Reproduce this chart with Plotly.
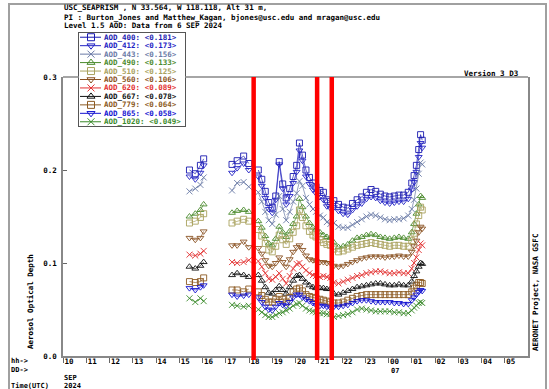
import plotly.graph_objects as go

# ---------------- data ----------------
T_SEG1 = [15.44, 15.69, 15.91, 16.05]
T_SEG2 = [17.27, 17.49, 17.77, 17.99]
T_SEG3 = [18.40, 18.55, 18.70, 18.85, 19.00, 19.15, 19.30, 19.45, 19.60, 19.75,
          19.90, 20.05, 20.17, 20.30, 20.45, 20.60, 20.75, 20.88, 21.05, 21.20,
          21.35, 21.50, 21.65, 21.85, 22.05, 22.25, 22.45, 22.65, 22.85, 23.05,
          23.25, 23.45, 23.65, 23.85, 24.05, 24.25, 24.45, 24.65, 24.85, 25.00,
          25.10, 25.20, 25.30, 25.38, 25.45]

AOD_400 = [0.200, 0.196, 0.205, 0.212, 0.206, 0.210, 0.215, 0.207,
           0.200, 0.190, 0.177, 0.165, 0.160, 0.172, 0.209, 0.185, 0.170, 0.180,
           0.193, 0.205, 0.229, 0.216, 0.200, 0.192, 0.186, 0.182, 0.178, 0.176,
           0.168, 0.166, 0.167, 0.163, 0.160, 0.159, 0.164, 0.168, 0.171, 0.176,
           0.179, 0.177, 0.174, 0.172, 0.171, 0.172, 0.173, 0.173, 0.176, 0.186,
           0.194, 0.205, 0.222, 0.238, 0.232]
AOD_412 = [0.193, 0.190, 0.197, 0.205, 0.197, 0.202, 0.207, 0.200,
           0.193, 0.183, 0.170, 0.158, 0.154, 0.168, 0.206, 0.180, 0.163, 0.172,
           0.186, 0.198, 0.221, 0.210, 0.193, 0.185, 0.179, 0.175, 0.171, 0.168,
           0.161, 0.159, 0.160, 0.156, 0.153, 0.152, 0.157, 0.161, 0.164, 0.169,
           0.171, 0.170, 0.167, 0.165, 0.164, 0.165, 0.166, 0.166, 0.169, 0.179,
           0.187, 0.198, 0.214, 0.229, 0.224]
AOD_443 = [0.177, 0.180, 0.184, 0.192, 0.178, 0.186, 0.187, 0.182,
           0.176, 0.166, 0.155, 0.146, 0.142, 0.152, 0.172, 0.158, 0.146, 0.155,
           0.166, 0.175, 0.188, 0.183, 0.170, 0.163, 0.158, 0.155, 0.151, 0.149,
           0.144, 0.142, 0.143, 0.139, 0.138, 0.138, 0.141, 0.144, 0.147, 0.150,
           0.152, 0.151, 0.149, 0.147, 0.146, 0.147, 0.147, 0.148, 0.151, 0.158,
           0.168, 0.180, 0.196, 0.208, 0.206]
AOD_490 = [0.150, 0.153, 0.157, 0.163, 0.154, 0.156, 0.157, 0.155,
           0.145, 0.138, 0.129, 0.121, 0.119, 0.126, 0.139, 0.133, 0.128, 0.134,
           0.142, 0.150, 0.169, 0.160, 0.150, 0.143, 0.138, 0.136, 0.133, 0.130,
           0.128, 0.127, 0.122, 0.117, 0.118, 0.120, 0.124, 0.127, 0.128, 0.130,
           0.131, 0.130, 0.128, 0.127, 0.126, 0.127, 0.128, 0.127, 0.126, 0.133,
           0.142, 0.153, 0.163, 0.172, 0.170]
AOD_510 = [0.143, 0.145, 0.149, 0.153, 0.143, 0.145, 0.147, 0.145,
           0.136, 0.129, 0.121, 0.114, 0.112, 0.118, 0.130, 0.125, 0.120, 0.126,
           0.133, 0.140, 0.157, 0.149, 0.140, 0.134, 0.130, 0.128, 0.125, 0.122,
           0.120, 0.119, 0.115, 0.112, 0.113, 0.115, 0.117, 0.119, 0.120, 0.121,
           0.122, 0.121, 0.120, 0.119, 0.118, 0.119, 0.119, 0.118, 0.118, 0.124,
           0.132, 0.142, 0.151, 0.160, 0.157]
AOD_560 = [0.127, 0.125, 0.127, 0.134, 0.119, 0.119, 0.123, 0.117,
           0.116, 0.110, 0.103, 0.097, 0.096, 0.100, 0.106, 0.101, 0.096, 0.104,
           0.112, 0.117, 0.119, 0.114, 0.108, 0.104, 0.103, 0.102, 0.101, 0.101,
           0.100, 0.100, 0.097, 0.096, 0.097, 0.099, 0.101, 0.103, 0.105, 0.106,
           0.107, 0.107, 0.107, 0.106, 0.107, 0.107, 0.108, 0.107, 0.107, 0.112,
           0.118, 0.124, 0.133, 0.139, 0.137]
AOD_620 = [0.109, 0.108, 0.110, 0.113, 0.101, 0.100, 0.101, 0.103,
           0.102, 0.096, 0.089, 0.083, 0.082, 0.085, 0.089, 0.083, 0.078, 0.086,
           0.094, 0.099, 0.100, 0.096, 0.092, 0.089, 0.087, 0.086, 0.085, 0.086,
           0.085, 0.084, 0.079, 0.078, 0.080, 0.082, 0.084, 0.086, 0.087, 0.089,
           0.090, 0.091, 0.091, 0.090, 0.089, 0.089, 0.090, 0.089, 0.089, 0.094,
           0.100, 0.106, 0.114, 0.121, 0.119]
AOD_667 = [0.096, 0.094, 0.097, 0.101, 0.087, 0.089, 0.087, 0.085,
           0.087, 0.081, 0.074, 0.068, 0.067, 0.071, 0.075, 0.071, 0.067, 0.074,
           0.081, 0.086, 0.087, 0.083, 0.079, 0.076, 0.074, 0.073, 0.073, 0.073,
           0.072, 0.072, 0.067, 0.066, 0.068, 0.070, 0.072, 0.074, 0.075, 0.076,
           0.077, 0.078, 0.078, 0.077, 0.076, 0.076, 0.077, 0.076, 0.076, 0.080,
           0.086, 0.091, 0.096, 0.100, 0.099]
AOD_779 = [0.080, 0.079, 0.080, 0.084, 0.071, 0.071, 0.069, 0.072,
           0.069, 0.065, 0.061, 0.058, 0.058, 0.061, 0.064, 0.061, 0.058, 0.063,
           0.069, 0.072, 0.073, 0.070, 0.066, 0.064, 0.063, 0.062, 0.061, 0.060,
           0.059, 0.058, 0.057, 0.057, 0.058, 0.060, 0.062, 0.064, 0.065, 0.066,
           0.066, 0.066, 0.066, 0.066, 0.066, 0.066, 0.066, 0.066, 0.066, 0.069,
           0.073, 0.076, 0.079, 0.079, 0.078]
AOD_865 = [0.073, 0.071, 0.074, 0.076, 0.066, 0.064, 0.065, 0.066,
           0.063, 0.058, 0.053, 0.050, 0.049, 0.053, 0.057, 0.055, 0.054, 0.058,
           0.063, 0.066, 0.066, 0.063, 0.061, 0.059, 0.057, 0.055, 0.054, 0.054,
           0.053, 0.052, 0.053, 0.053, 0.054, 0.055, 0.057, 0.059, 0.060, 0.060,
           0.059, 0.058, 0.058, 0.058, 0.058, 0.057, 0.057, 0.056, 0.056, 0.060,
           0.063, 0.066, 0.069, 0.071, 0.070]
AOD_1020 = [0.062, 0.058, 0.062, 0.059, 0.055, 0.054, 0.053, 0.054,
            0.050, 0.047, 0.044, 0.042, 0.042, 0.044, 0.046, 0.047, 0.049, 0.051,
            0.054, 0.056, 0.057, 0.054, 0.051, 0.049, 0.048, 0.047, 0.046, 0.046,
            0.045, 0.045, 0.042, 0.043, 0.044, 0.045, 0.047, 0.050, 0.051, 0.050,
            0.049, 0.048, 0.048, 0.048, 0.048, 0.047, 0.047, 0.046, 0.046, 0.049,
            0.052, 0.054, 0.057, 0.058, 0.057]

SERIES_NAMES = ["AOD_400", "AOD_412", "AOD_443", "AOD_490", "AOD_510", "AOD_560",
                "AOD_620", "AOD_667", "AOD_779", "AOD_865", "AOD_1020"]
SERIES_VALUES = [AOD_400, AOD_412, AOD_443, AOD_490, AOD_510, AOD_560,
                 AOD_620, AOD_667, AOD_779, AOD_865, AOD_1020]
SERIES_MEANS = ["0.181", "0.173", "0.156", "0.133", "0.125", "0.106",
                "0.089", "0.078", "0.064", "0.058", "0.049"]
SERIES_COLORS = ["#1a1ab0", "#2222c4", "#6a7aa6", "#4a8a2c", "#a9a25e", "#8a5222",
                 "#e23030", "#111111", "#8c5a22", "#1212d0", "#3a8a2a"]
SERIES_SYMBOLS = ["square-open", "triangle-down-open", "x-thin-open", "triangle-up-open",
                  "square-open", "triangle-down-open", "x-thin-open", "triangle-up-open",
                  "square-open", "triangle-down-open", "x-thin-open"]

RED_LINE_HOURS = [18.20, 20.93, 21.56]

HOUR_TICKS = list(range(10, 30))
HOUR_LABELS = ["10", "11", "12", "13", "14", "15", "16", "17", "18", "19", "20",
               "21", "22", "23", "00", "01", "02", "03", "04", "05"]
Y_TICKS = [0.0, 0.1, 0.2, 0.3]
Y_LABELS = ["0.0", "0.1", "0.2", "0.3"]

# ---------------- geometry helpers ----------------
W, H = 549, 389
ML, MR, MT, MB = 63, 21, 30, 33
PW, PH = W - ML - MR, H - MT - MB


def px(x):
    return (x - ML) / PW


def py(y):
    return (H - MB - y) / PH


TOP = py(77)
FONT = "DejaVu Sans Mono"


def tfont(size=7.5, color="#000000"):
    return dict(family=FONT, size=size, color=color, weight="bold")


fig = go.Figure()

# main data traces
n1, n2 = len(T_SEG1), len(T_SEG2)
xs = T_SEG1 + [None] + T_SEG2 + [None] + T_SEG3
for name, vals, col, sym in zip(SERIES_NAMES, SERIES_VALUES, SERIES_COLORS, SERIES_SYMBOLS):
    ys = vals[:n1] + [None] + vals[n1:n1 + n2] + [None] + vals[n1 + n2:]
    fig.add_trace(go.Scatter(
        x=xs, y=ys, mode="lines+markers", name=name, showlegend=False,
        line=dict(color=col, width=0.7),
        marker=dict(symbol=sym, size=6, color=col, line=dict(color=col, width=0.9)),
        xaxis="x", yaxis="y", hoverinfo="skip"))

# custom legend samples (on overlay axes)
for i, (name, col, sym, mean) in enumerate(zip(SERIES_NAMES, SERIES_COLORS, SERIES_SYMBOLS, SERIES_MEANS)):
    r = i + 0.5
    fig.add_trace(go.Scatter(
        x=[1, 12, 22], y=[r, r, r], mode="lines+markers", showlegend=False,
        line=dict(color=col, width=1),
        marker=dict(symbol=sym, size=7, color=col, opacity=[0, 1, 0],
                    line=dict(color=col, width=1)),
        xaxis="x2", yaxis="y2", hoverinfo="skip"))
    fig.add_annotation(x=23, y=r, xref="x2", yref="y2", text=f"{name}: <{mean}>",
                       showarrow=False, xanchor="left", yanchor="middle",
                       font=tfont(7.5, col))

shapes = []
# outer frame
shapes.append(dict(type="rect", xref="paper", yref="paper",
                   x0=px(9), x1=px(546), y0=py(396), y1=py(4),
                   line=dict(color="#a0a0a0", width=2), layer="below"))
# top border of plot (interrupted by legend box)
for xa, xb in [(0, px(79)), (px(185), 1)]:
    shapes.append(dict(type="line", xref="paper", yref="paper", x0=xa, x1=xb,
                       y0=TOP, y1=TOP, line=dict(color="#888888", width=1.5)))
# red vertical markers
for h in RED_LINE_HOURS:
    shapes.append(dict(type="line", xref="x", yref="paper", x0=h, x1=h,
                       y0=py(360), y1=TOP, line=dict(color="#ff0000", width=4.5),
                       layer="above"))

ann = []


def text(x, y, s, anchor="left", size=7.5, angle=0):
    ann.append(dict(x=px(x), y=py(y), xref="paper", yref="paper", text=s,
                    showarrow=False, xanchor=anchor, yanchor="middle",
                    textangle=angle, font=tfont(size), borderpad=0))


text(63, 8, "USC_SEAPRISM , N 33.564, W 118.118, Alt 31 m,")
text(63, 17, "PI : Burton_Jones and Matthew_Kagan, bjones@usc.edu and mragan@usc.edu")
text(63, 25, "Level 1.5 AOD: Data from 6 SEP 2024")
text(520, 73, "Version 3 D3", anchor="right")
text(10, 361, "hh->", size=7)
text(10, 370, "DD->", size=7)
text(63, 377.5, "SEP", size=7)
text(10, 385.5, "Time(UTC)", size=7)
text(63, 385.5, "2024", size=7)
text(390, 370.5, "07", size=7)
ann.append(dict(x=px(30), y=py(302), xref="paper", yref="paper",
                text="Aerosol Optical Depth", showarrow=False, textangle=-90,
                xanchor="center", yanchor="middle", font=tfont(7.5)))
ann.append(dict(x=px(535), y=py(293), xref="paper", yref="paper",
                text="AERONET Project, NASA GSFC", showarrow=False, textangle=-90,
                xanchor="center", yanchor="middle", font=tfont(7.5)))

for a in ann:
    fig.add_annotation(**a)

fig.update_layout(
    width=W, height=H,
    margin=dict(l=ML, r=MR, t=MT, b=MB, pad=0),
    paper_bgcolor="white", plot_bgcolor="white",
    hovermode=False, showlegend=False,
    shapes=shapes,
    xaxis=dict(domain=[0, 1], range=[10, 30], anchor="y",
               tickvals=HOUR_TICKS, ticktext=HOUR_LABELS,
               ticks="outside", ticklen=5, tickwidth=1, tickcolor="#666666",
               showline=True, linecolor="#888888", linewidth=1.5, mirror=False,
               showgrid=False, zeroline=False, tickfont=tfont(7.5),
               ticklabelshift=6, ticklabelstandoff=-8),
    yaxis=dict(domain=[0, TOP], range=[0, 0.3], anchor="x",
               tickvals=Y_TICKS, ticktext=Y_LABELS,
               ticks="inside", ticklen=4, tickwidth=1, tickcolor="#666666",
               showline=True, linecolor="#888888", linewidth=1.5, mirror=True,
               showgrid=False, zeroline=False, tickfont=tfont(7.5),
               ticklabelstandoff=3),
    xaxis2=dict(domain=[px(79), px(185)], range=[0, 106], anchor="y2",
                showline=True, mirror=True, linecolor="#555555", linewidth=1,
                showgrid=False, zeroline=False, showticklabels=False, ticks=""),
    yaxis2=dict(domain=[py(126), py(33)], range=[11, 0], anchor="x2",
                showline=True, mirror=True, linecolor="#555555", linewidth=1,
                showgrid=False, zeroline=False, showticklabels=False, ticks=""),
)

fig.write_html("out.html")
